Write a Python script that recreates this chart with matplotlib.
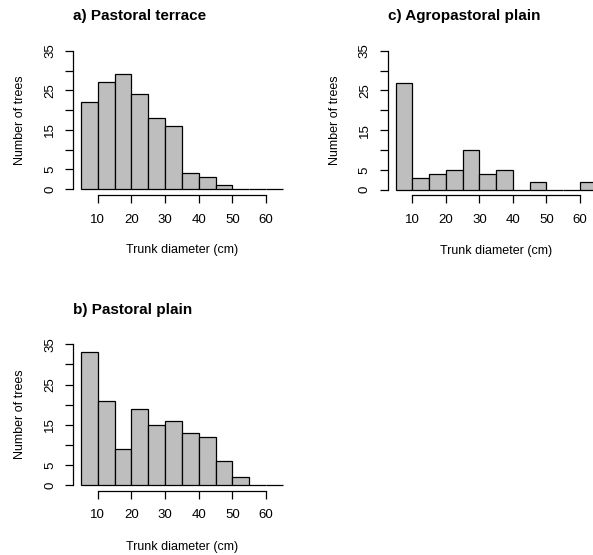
import matplotlib
matplotlib.use('Agg')
import matplotlib.pyplot as plt
import numpy as np

plt.rcParams['font.family'] = ['Liberation Sans', 'DejaVu Sans']

# histogram bins (left edges, width 5 cm)
bin_left = [5, 10, 15, 20, 25, 30, 35, 40, 45, 50, 55, 60]
bin_width = 5

counts_a = [22, 27, 29, 24, 18, 16, 4, 3, 1, 0, 0, 0]
counts_b = [33, 21, 9, 19, 15, 16, 13, 12, 6, 2, 0, 0]
counts_c = [27, 3, 4, 5, 10, 4, 5, 0, 2, 0, 0, 2]

titles = ['a) Pastoral terrace', 'b) Pastoral plain', 'c) Agropastoral plain']
x_ticks = [10, 20, 30, 40, 50, 60]
y_ticks = [0, 5, 10, 15, 20, 25, 30, 35]
y_ticklabels = ['0', '5', '', '15', '', '25', '', '35']

W, H = 593, 555
fig = plt.figure(figsize=(W / 100, H / 100), dpi=100)


def panel(rect_px, counts, title):
    x0, y0, w, h = rect_px
    ax = fig.add_axes([x0 / W, 1 - (y0 + h) / H, w / W, h / H])
    ax.bar(bin_left, counts, width=bin_width, align='edge',
           color='#bebebe', edgecolor='black', linewidth=0.9)
    ax.set_xlim(2.6, 67.4)
    ax.set_ylim(-1.4, 36.4)
    ax.spines['top'].set_visible(False)
    ax.spines['right'].set_visible(False)
    ax.spines['left'].set_bounds(0, 35)
    ax.spines['bottom'].set_bounds(10, 60)
    for s in ('left', 'bottom'):
        ax.spines[s].set_linewidth(0.9)
    ax.set_xticks(x_ticks)
    ax.set_yticks(y_ticks)
    ax.set_yticklabels(y_ticklabels, rotation=90, va='center')
    ax.tick_params(length=5.5, width=0.9, labelsize=9.5, pad=8)
    ax.tick_params(axis='y', pad=6.5)
    ax.set_title(title, loc='left', fontweight='bold', fontsize=11, pad=18)
    ax.text(-0.242, 0.5, 'Number of trees', rotation=90, ha='center', va='center',
            fontsize=9, transform=ax.transAxes)
    ax.text(0.5, -0.37, 'Trunk diameter (cm)', ha='center', va='center',
            fontsize=9, transform=ax.transAxes)
    return ax


panel((72.8, 45.2, 218.2, 149.6), counts_a, titles[0])
panel((72.8, 338.7, 218.2, 151.9), counts_b, titles[1])
panel((387.5, 45.2, 217.3, 150.1), counts_c, titles[2])

fig.savefig('out.png', dpi=100)
